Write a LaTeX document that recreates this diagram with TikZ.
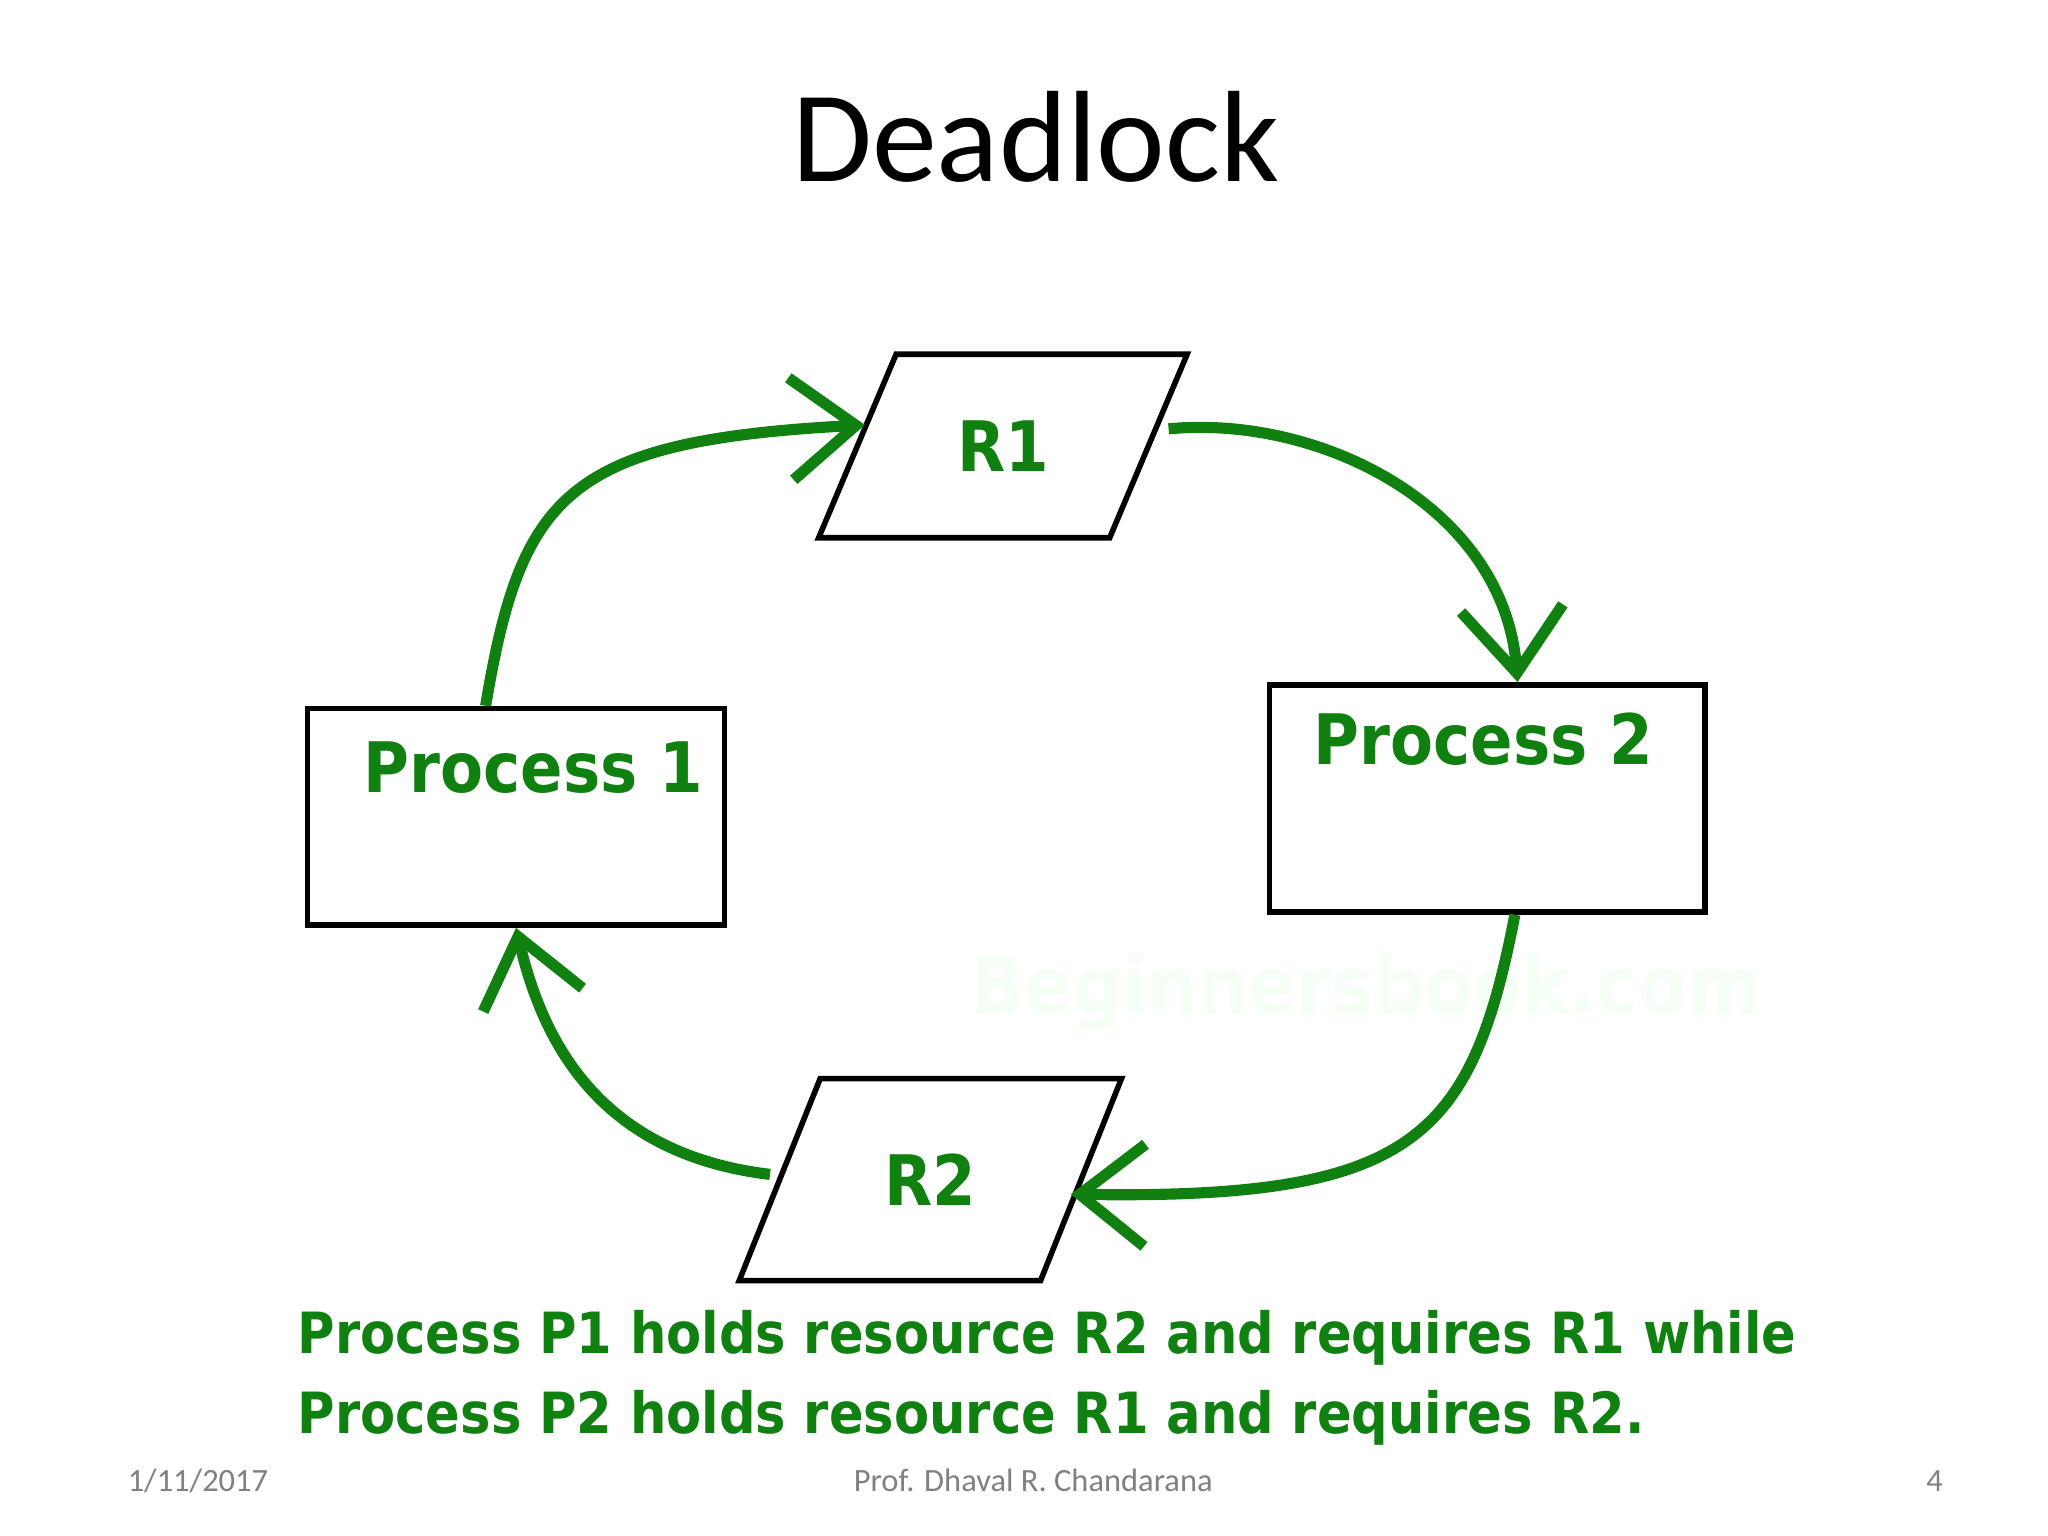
\documentclass[tikz,border=0pt]{standalone}
\usepackage{fontspec}
\setmainfont{Carlito}
\newfontfamily\greenfont{DejaVu Sans Condensed}
\usepackage{xcolor}
\usetikzlibrary{shapes.geometric, arrows.meta, positioning, calc}
\definecolor{dlgreen}{RGB}{16,128,16}
\tikzstyle{process} = [rectangle, minimum width=3.16cm, minimum height=1.64cm, draw=black, line width=1.2pt, inner sep=0pt]
\tikzstyle{resource} = [trapezium, trapezium left angle=60, trapezium right angle=120, trapezium stretches, minimum width=2.8cm, draw=black, line width=1.2pt, inner sep=2pt, font=\greenfont\bfseries\fontsize{15}{18}\selectfont, text=dlgreen]
\tikzstyle{glabel} = [font=\greenfont\bfseries\fontsize{15}{18}\selectfont, text=dlgreen, inner sep=0pt]
\tikzstyle{arrow} = [line width=2.4pt, draw=dlgreen, -{Straight Barb[length=14pt,width=22pt,line width=2.4pt]}]

\begin{document}
\begin{tikzpicture}[x=0.01cm, y=0.01cm]
\useasboundingbox (0,0) rectangle (1552,1164);

% Title
\node (title) [font=\fontsize{28}{32}\selectfont] at (785,1060) {Deadlock};

% Processes
\node (p1) [process] at (391,545) {};
\node (p1-text) [glabel, anchor=west] at (275,582) {Process 1};
\node (p2) [process, minimum width=3.30cm, minimum height=1.72cm] at (1127,559) {};
\node (p2-text) [glabel, anchor=west] at (995,604) {Process 2};

% Resources
\node (r1) [resource, minimum height=1.39cm] at (760,826) {R1};
\node (r2) [resource, minimum width=2.9cm, minimum height=1.53cm] at (705,270) {R2};

% Watermark
\node (mark) [font=\greenfont\bfseries\fontsize{17}{20}\selectfont, text=green!4] at (1035,412) {Beginnersbook.com};

% Caption
\node (caption) [anchor=north west, text=dlgreen, inner sep=0pt] at (225,175)
  {\resizebox{11.35cm}{!}{\greenfont\bfseries\begin{tabular}{@{}l@{}}Process P1 holds resource R2 and requires R1 while\\[2pt] Process P2 holds resource R1 and requires R2.\end{tabular}}};

% Footer
\node (date) [font=\fontsize{7}{8}\selectfont, text=gray] at (150,42) {1/11/2017};
\node (author) [font=\fontsize{7}{8}\selectfont, text=gray] at (783,42) {Prof. Dhaval R. Chandarana};
\node (page) [font=\fontsize{7}{8}\selectfont, text=gray] at (1466,42) {4};

% Arrows
\draw [arrow] ($(p1.north)+(-23,0)$) .. controls (395,790) and (430,830) .. ($(r1.west)+(8,16)$);
\draw [arrow] ($(r1.east)+(13,13)$) .. controls (1000,850) and (1140,780) .. ($(p2.north)+(23,0)$);
\draw [arrow] ($(p2.south)+(21,0)$) .. controls (1115,300) and (1070,255) .. ($(r2.east)+(-10,-11)$);
\draw [arrow] ($(r2.west)+(-5,4)$) .. controls (450,290) and (410,380) .. (p1.south);

\end{tikzpicture}
\end{document}
